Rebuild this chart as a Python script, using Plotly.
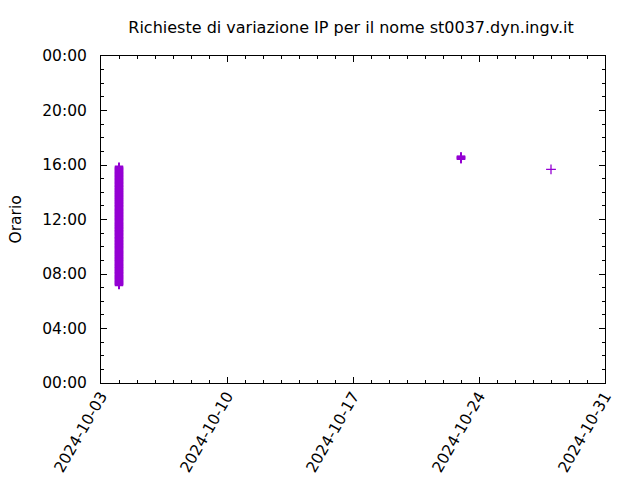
import plotly.graph_objects as go

# --- data ---
day1 = "2024-10-04"
times1 = [
    "07:11", "07:14", "07:16", "07:19", "07:22", "07:25", "07:27", "07:30", "07:33", "07:36",
    "07:39", "07:41", "07:44", "07:47", "07:50", "07:52", "07:55", "07:58",
    "08:01", "08:04", "08:06", "08:09", "08:12", "08:15", "08:17", "08:20", "08:23", "08:26",
    "08:29", "08:31", "08:34", "08:37", "08:40", "08:42", "08:45", "08:48", "08:51", "08:54", "08:57",
    "09:00", "09:02", "09:05", "09:08", "09:11", "09:13", "09:16", "09:19", "09:22", "09:25",
    "09:27", "09:30", "09:33", "09:36", "09:38", "09:41", "09:44", "09:47", "09:50", "09:53", "09:56",
    "09:59", "10:01", "10:04", "10:07", "10:10", "10:12", "10:15", "10:18", "10:21", "10:24",
    "10:26", "10:29", "10:32", "10:35", "10:38", "10:40", "10:43", "10:46", "10:49", "10:52", "10:55", "10:58",
    "11:00", "11:03", "11:06", "11:09", "11:11", "11:14", "11:17", "11:20", "11:23", "11:25",
    "11:28", "11:31", "11:34", "11:37", "11:39", "11:42", "11:45", "11:48", "11:51", "11:54", "11:57",
    "12:00", "12:02", "12:05", "12:08", "12:11", "12:14", "12:16", "12:19", "12:22", "12:25",
    "12:28", "12:30", "12:33", "12:36", "12:39", "12:42", "12:44", "12:47", "12:50", "12:53", "12:56", "12:59",
    "13:01", "13:04", "13:07", "13:10", "13:13", "13:15", "13:18", "13:21", "13:24", "13:27",
    "13:29", "13:32", "13:35", "13:38", "13:41", "13:43", "13:46", "13:49", "13:52", "13:55", "13:58",
    "14:00", "14:03", "14:06", "14:09", "14:12", "14:14", "14:17", "14:20", "14:23", "14:26",
    "14:28", "14:31", "14:34", "14:37", "14:40", "14:42", "14:45", "14:48", "14:51", "14:54", "14:57",
    "14:59", "15:02", "15:05", "15:08", "15:11", "15:13", "15:16", "15:19", "15:22", "15:25",
    "15:27", "15:30", "15:33", "15:36", "15:39", "15:41", "15:44", "15:47", "15:50", "15:53",
]
day2 = "2024-10-23"
times2 = ["16:25", "16:27", "16:29", "16:31", "16:33", "16:35", "16:37", "16:38"]
day3 = "2024-10-28"
times3 = ["15:41"]

title_text = "Richieste di variazione IP per il nome st0037.dyn.ingv.it"
y_label = "Orario"
x_range = ["2024-10-03", "2024-10-31"]
y_range = ["2000-01-01 00:00", "2000-01-02 00:00"]

COLOR = "#9400D3"
FONT = "DejaVu Sans"
TICK_SIZE = 15.5
OFF = 8  # browser body margin

W, H = 640 - OFF, 480 - OFF
L, T = 101 - OFF, 56 - OFF
R = W - (605 - OFF)
B = H - (383 - OFF)

fig = go.Figure()
for day, times, lw, sz in [(day1, times1, 2, 6), (day2, times2, 1.6, 6), (day3, times3, 1.3, 7)]:
    fig.add_trace(go.Scatter(
        x=[day] * len(times), y=["2000-01-01 " + t for t in times], mode="markers",
        marker=dict(symbol="cross-thin", size=sz, color=COLOR,
                    line=dict(color=COLOR, width=lw)),
        showlegend=False, hoverinfo="skip",
    ))

axis_common = dict(
    showline=True, linecolor="black", linewidth=1, mirror="ticks",
    ticks="inside", ticklen=6, tickwidth=1, tickcolor="black",
    showgrid=False, zeroline=False, automargin=False,
    tickfont=dict(family=FONT, size=TICK_SIZE, color="black"),
)

fig.update_xaxes(
    type="date", range=x_range, tick0="2024-10-03", dtick=7 * 86400000,
    tickformat="%Y-%m-%d", tickangle=-60, ticklabelstandoff=-3,
    minor=dict(ticks="inside", ticklen=3, dtick=86400000, tickcolor="black", tickwidth=1),
    **axis_common,
)
fig.update_yaxes(
    type="date", range=y_range, tick0="2000-01-01", dtick=4 * 3600000,
    tickformat="%H:%M", ticklabelstandoff=10,
    minor=dict(ticks="inside", ticklen=3, dtick=3600000, tickcolor="black", tickwidth=1),
    **axis_common,
)

fig.update_layout(
    width=W, height=H,
    margin=dict(l=L, r=R, t=T, b=B, autoexpand=False),
    paper_bgcolor="white", plot_bgcolor="white",
    font=dict(family=FONT, size=TICK_SIZE, color="black"),
    title=dict(text=title_text, x=(351 - OFF) / W, xanchor="center", xref="container",
               y=1 - (27 - OFF) / H, yanchor="middle", yref="container",
               font=dict(family=FONT, size=16, color="black")),
    annotations=[dict(text=y_label, x=(15 - 101) / 504, y=(383 - 219.5) / 327,
                      xref="paper", yref="paper", xanchor="center", yanchor="middle",
                      showarrow=False, textangle=-90,
                      font=dict(family=FONT, size=TICK_SIZE, color="black"))],
)

fig.write_html("out.html")
